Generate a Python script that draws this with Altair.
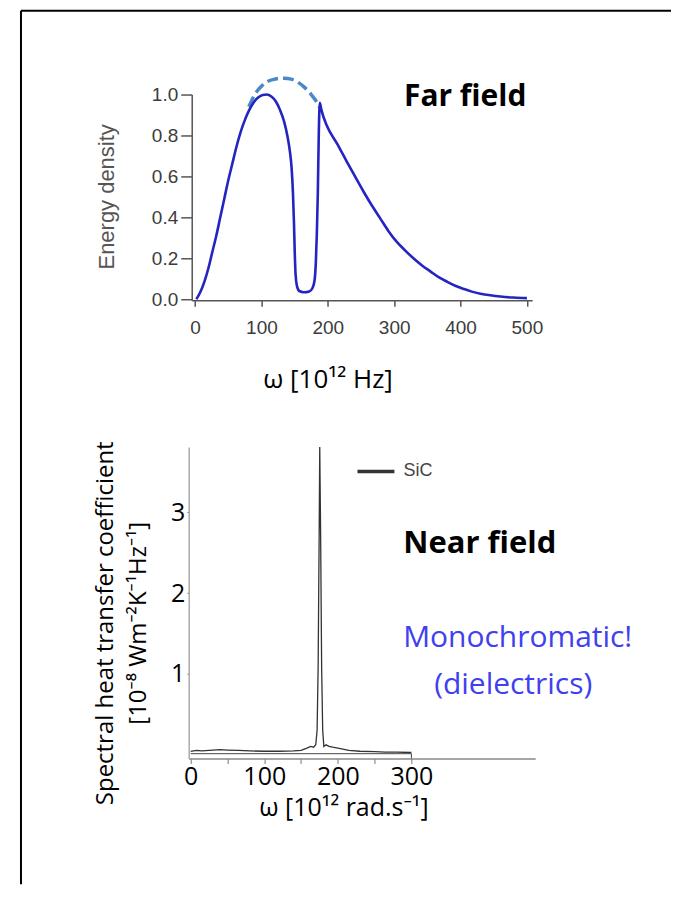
import altair as alt
import pandas as pd

# ---------------- data ----------------
# Far field: energy density vs omega [1e12 Hz]
ff_omega = [2, 8, 14, 20, 26, 32, 38, 44, 50, 56, 62, 69, 75, 81, 88, 95, 102, 108, 115, 122,
            128, 134, 139, 143, 145.5, 147.5, 149, 150.3, 151.5, 153.5, 157, 164, 172, 177, 180,
            182, 183.5, 185, 186.5, 188, 190, 199, 214, 229, 241, 254, 266, 279, 291, 304, 316,
            329, 342, 355, 367, 380, 392, 405, 417, 430, 445, 460, 480, 500]
ff_energy = [0.0, 0.035, 0.085, 0.15, 0.23, 0.31, 0.40, 0.49, 0.58, 0.66, 0.74, 0.82, 0.875, 0.92,
             0.96, 0.985, 0.998, 1.0, 0.99, 0.965, 0.925, 0.87, 0.80, 0.72, 0.64, 0.52, 0.38, 0.22,
             0.12, 0.065, 0.04, 0.034, 0.038, 0.055, 0.09, 0.18, 0.32, 0.52, 0.82, 0.96, 0.93,
             0.845, 0.76, 0.67, 0.6, 0.525, 0.46, 0.395, 0.335, 0.28, 0.24, 0.2, 0.165, 0.135,
             0.108, 0.085, 0.066, 0.05, 0.037, 0.027, 0.019, 0.013, 0.008, 0.005]
# dashed blackbody continuation over the gap
bb_omega = [81, 90, 100, 110, 120, 134, 145, 155, 165, 175, 183, 188]
bb_energy = [0.94, 1.0, 1.04, 1.065, 1.075, 1.08, 1.075, 1.06, 1.035, 1.0, 0.965, 0.935]
ff_xticks = [0, 100, 200, 300, 400, 500]
ff_yticks = [0.0, 0.2, 0.4, 0.6, 0.8, 1.0]

# Near field: spectral heat transfer coefficient (SiC)
nf_omega = [0, 8, 15, 25, 40, 50, 65, 80, 100, 120, 140, 150, 158, 163, 167, 170, 171.8, 173.2,
            174.6, 175.4, 176.6, 178, 179.4, 181, 184, 188, 193, 200, 215, 230, 250, 265, 280, 300]
nf_h = [0.04, 0.05, 0.045, 0.05, 0.06, 0.055, 0.05, 0.045, 0.04, 0.04, 0.045, 0.05, 0.08, 0.1,
        0.09, 0.12, 0.3, 1.07, 2.72, 3.81, 2.72, 1.07, 0.3, 0.1, 0.12, 0.1, 0.09, 0.08, 0.05,
        0.04, 0.035, 0.03, 0.03, 0.025]
nf_series = ["SiC"] * len(nf_omega)
box_omega = [0, 300]
box_level = [0.01, 0.01]
box_side_omega = [300]
box_side_lo = [-0.05]
box_side_hi = [0.01]
nf_xticks = [0, 50, 100, 150, 200, 250, 300]
nf_yticks = [1, 2, 3]

notes_top = ["Far field"]
notes_bottom = ["Near field", "Monochromatic!", "(dielectrics)"]

FONT = "Open Sans, Noto Sans"
SANS = "Liberation Sans"

# ---------------- far field chart ----------------
far_df = pd.DataFrame({"omega": ff_omega, "energy": ff_energy})
bb_df = pd.DataFrame({"omega": bb_omega, "energy": bb_energy})

top_x = alt.X(
    "omega:Q",
    scale=alt.Scale(domain=[-5, 508], nice=False, zero=False),
    axis=alt.Axis(
        values=ff_xticks, labelFlush=False, grid=False,
        domainColor="#555", domainWidth=1.5, tickColor="#555", tickWidth=1.5, tickSize=6,
        labelFont=SANS, labelFontSize=19, labelColor="#3c3c3c", labelPadding=12,
        title="ω [10¹² Hz]", titleFont=FONT, titleFontSize=26, titleFontWeight="normal",
        titleColor="black", titleX=136, titleY=79, titleAlign="center",
        titleBaseline="middle", titleAngle=0,
    ),
)
top_y = alt.Y(
    "energy:Q",
    scale=alt.Scale(domain=[-0.005, 1.0], nice=False, zero=False),
    axis=alt.Axis(
        values=ff_yticks, format=".1f", grid=False,
        domainColor="#555", domainWidth=1.5, tickColor="#555", tickWidth=1.5, tickSize=11,
        labelFont=SANS, labelFontSize=19, labelColor="#3c3c3c", labelPadding=3,
        title="Energy density", titleFont=SANS, titleFontSize=22, titleFontWeight="normal",
        titleColor="#555", titleX=-85, titleY=102, titleAngle=270, titleAlign="center",
        titleBaseline="middle",
    ),
)

solid = alt.Chart(far_df).mark_line(
    color="#2424c0", strokeWidth=2.6, interpolate="monotone"
).encode(x=top_x, y=top_y)

dashed = alt.Chart(bb_df).mark_line(
    color="#4a88c8", strokeWidth=3.5, strokeDash=[11, 5], interpolate="monotone"
).encode(x=top_x, y=top_y)

far_label = alt.Chart(pd.DataFrame({"note": notes_top})).mark_text(
    font=FONT, fontSize=30, fontWeight="bold", color="black", align="center", baseline="middle"
).encode(text="note:N", x=alt.datum(407), y=alt.datum(0.99))

frame_df = pd.DataFrame({"part": ["frame"]})
frame_top = alt.Chart(frame_df).mark_rule(color="black", strokeWidth=2).encode(
    x=alt.value(-171), x2=alt.value(480), y=alt.value(-84)
)
frame_left = alt.Chart(frame_df).mark_rule(color="black", strokeWidth=2).encode(
    x=alt.value(-171), y=alt.value(-84), y2=alt.value(791)
)

top = alt.layer(dashed, solid, far_label, frame_top, frame_left).properties(width=341, height=206)

# ---------------- near field chart ----------------
nf_df = pd.DataFrame({"omega": nf_omega, "h": nf_h, "series": nf_series})
box_df = pd.DataFrame({"omega": box_omega, "h": box_level})
side_df = pd.DataFrame({"omega": box_side_omega, "lo": box_side_lo, "hi": box_side_hi})

bot_x = alt.X(
    "omega:Q",
    scale=alt.Scale(domain=[-2.7, 468.3], nice=False, zero=False),
    axis=alt.Axis(
        values=nf_xticks, labelExpr="datum.value % 100 == 0 ? datum.label : ''",
        labelFlush=False, labelOverlap=False, grid=False,
        domainColor="#888", domainWidth=1.5, tickColor="#777", tickWidth=1, tickSize=5,
        labelFont=FONT, labelFontSize=25, labelColor="black", labelPadding=1,
        title="ω [10¹² rad.s⁻¹]", titleFont=FONT, titleFontSize=25, titleFontWeight="normal",
        titleColor="black", titleX=155, titleY=49, titleAlign="center",
        titleBaseline="middle", titleAngle=0,
    ),
)
bot_y = alt.Y(
    "h:Q",
    scale=alt.Scale(domain=[-0.05, 3.81], nice=False, zero=False),
    axis=alt.Axis(
        values=nf_yticks, format="d", grid=False,
        domainColor="#aaa", domainWidth=1.5, tickColor="#888", tickSize=2,
        labelFont=FONT, labelFontSize=25, labelColor="black", labelPadding=2,
        title=["Spectral heat transfer coefficient", "[10⁻⁸ Wm⁻²K⁻¹Hz⁻¹]"],
        titleFont=FONT, titleFontSize=24, titleFontWeight="normal", titleColor="black",
        titleLineHeight=33, titleX=-83, titleY=176, titleAngle=270, titleAlign="center",
        titleBaseline="middle",
    ),
)

spectrum = alt.Chart(nf_df).mark_line(strokeWidth=1.3).encode(
    x=bot_x,
    y=bot_y,
    color=alt.Color(
        "series:N",
        scale=alt.Scale(domain=["SiC"], range=["#333333"]),
        legend=alt.Legend(
            title=None, orient="none", legendX=167, legendY=4, padding=0,
            symbolType="stroke", symbolSize=1369, symbolStrokeWidth=3.5,
            labelFont="Liberation Sans Narrow, Liberation Sans", labelFontSize=18,
            labelColor="#444", labelOffset=7,
        ),
    ),
)

box_line = alt.Chart(box_df).mark_line(color="#444", strokeWidth=1).encode(x=bot_x, y=bot_y)
box_side = alt.Chart(side_df).mark_rule(color="#444", strokeWidth=1).encode(
    x="omega:Q", y="lo:Q", y2="hi:Q"
)

near_label = alt.Chart(pd.DataFrame({"note": [notes_bottom[0]]})).mark_text(
    font=FONT, fontSize=31, fontWeight="bold", color="black", align="center", baseline="middle"
).encode(text="note:N", x=alt.datum(393), y=alt.datum(2.61))
mono_label = alt.Chart(pd.DataFrame({"note": [notes_bottom[1]]})).mark_text(
    font=FONT, fontSize=30, color="#4040f0", align="center", baseline="middle"
).encode(text="note:N", x=alt.datum(444.5), y=alt.datum(1.44))
diel_label = alt.Chart(pd.DataFrame({"note": [notes_bottom[2]]})).mark_text(
    font=FONT, fontSize=30, color="#4040f0", align="center", baseline="middle"
).encode(text="note:N", x=alt.datum(438.4), y=alt.datum(0.86))

bottom = alt.layer(box_line, box_side, spectrum, near_label, mono_label, diel_label).properties(
    width=347, height=312
)

chart = alt.vconcat(top, bottom, spacing=147, bounds="flush", center=True).resolve_legend(
    color="independent"
).properties(
    padding={"left": 11, "top": 0, "right": 0, "bottom": 0}
).configure_view(stroke="transparent").configure_axis(grid=False)

chart.save("out.html", embed_options={"renderer": "svg", "actions": False})
